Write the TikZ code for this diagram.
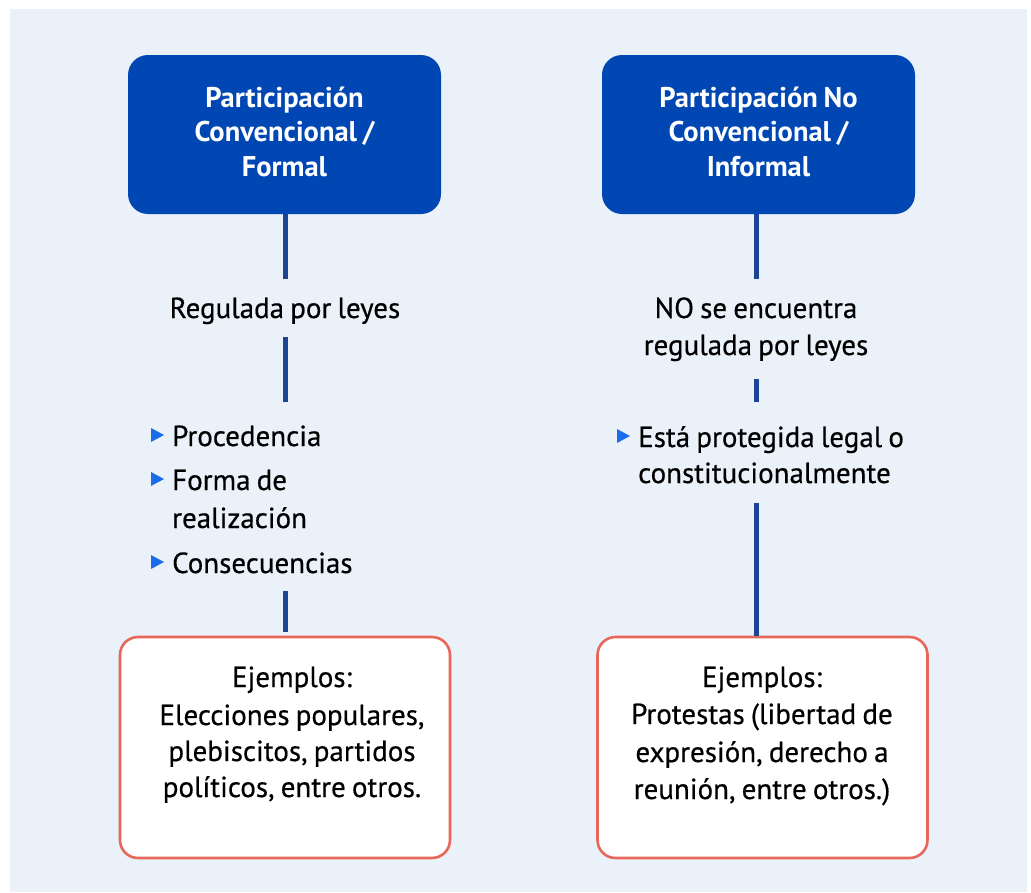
\documentclass[tikz,border=0pt]{standalone}
\usepackage{fontspec}
\setmainfont[WordSpace=0.8, FakeBold=0.5, BoldFeatures={FakeBold=0}]{PT Sans}
\definecolor{bgblue}{HTML}{EAF1F8}
\definecolor{headblue}{HTML}{0047B3}
\definecolor{lineblue}{HTML}{1C4596}
\definecolor{bulblue}{HTML}{1B6CE8}
\definecolor{exred}{HTML}{E8675B}
\tikzset{
  headbox/.style={draw=none, fill=headblue, rounded corners=20pt, minimum width=313pt, minimum height=159pt, inner sep=0pt, text=white, align=center, font=\fontsize{28.5}{34.5}\bfseries\selectfont},
  exbox/.style={draw=exred, line width=2.6pt, fill=white, rounded corners=18pt, minimum width=330pt, minimum height=221pt, inner sep=0pt},
  bodytxt/.style={inner sep=0pt, align=center, font=\fontsize{29}{37}\selectfont, text=black},
  bultxt/.style={inner sep=0pt, anchor=base west, font=\fontsize{29}{37}\selectfont, text=black},
  conn/.style={draw=lineblue, line width=5pt},
}
\newcommand\bultri[1]{\fill[bulblue] ([shift={(-21,-4)}]#1.base west) -- ++(0,-14) -- ++(13,7) -- cycle;}
\begin{document}
\begin{tikzpicture}[x=1pt,y=-1pt]
\useasboundingbox (0,0) rectangle (1031,892);
\fill[bgblue] (10,9) rectangle (1027,892);

% headers
\node[headbox] (h1) at (284.5,134.5) {Participación\\Convencional /\\Formal\rule[-6pt]{0pt}{6pt}};
\node[headbox] (h2) at (758.5,134.5) {Participación No\\Convencional /\\Informal\rule[-6pt]{0pt}{6pt}};

% left column
\node[bodytxt, anchor=base] (reg1) at (285,318) {Regulada por leyes};
\node[bultxt] (b1) at (172,446) {Procedencia};
\node[bultxt] (b2) at (172,490) {Forma de};
\node[bultxt] (b2b) at (172,528) {realización};
\node[bultxt] (b3) at (172,573) {Consecuencias};
\bultri{b1}\bultri{b2}\bultri{b3}

% right column
\node[bodytxt, anchor=base] (reg2) at (756,318) {NO se encuentra};
\node[bodytxt, anchor=base] (reg2b) at (756,355) {regulada por leyes};
\node[bultxt] (b4) at (638,447) {Está protegida legal o};
\node[bultxt] (b4b) at (638,483) {constitucionalmente};
\bultri{b4}

% example boxes
\node[exbox] (e1) at (285,747.5) {};
\node[exbox] (e2) at (762.5,747.5) {};
\node[bodytxt, anchor=base] (e1t) at (292,687) {Ejemplos:};
\node[bodytxt, anchor=base] (e1a) at (292,725) {Elecciones populares,};
\node[bodytxt, anchor=base] (e1b) at (292,761) {plebiscitos, partidos};
\node[bodytxt, anchor=base] (e1c) at (292,797) {políticos, entre otros.};
\node[bodytxt, anchor=base] (e2t) at (762,687) {Ejemplos:};
\node[bodytxt, anchor=base] (e2a) at (762,724) {Protestas (libertad de};
\node[bodytxt, anchor=base] (e2b) at (762,762) {expresión, derecho a};
\node[bodytxt, anchor=base] (e2c) at (762,799) {reunión, entre otros.)};

% connector end points
\coordinate (l1a) at (285,279);
\coordinate (l2a) at (285,337);
\coordinate (l2b) at (285,402);
\coordinate (l3a) at (285,591);
\coordinate (l3b) at (285,632);
\coordinate (r1a) at (756,279);
\coordinate (r2a) at (756,379);
\coordinate (r2b) at (756,402);
\coordinate (r3a) at (756,503);

\draw[conn] (h1.south -| l1a) -- (l1a);
\draw[conn] (l2a) -- (l2b);
\draw[conn] (l3a) -- (l3b);
\draw[conn] (h2.south -| r1a) -- (r1a);
\draw[conn] (r2a) -- (r2b);
\draw[conn] (r3a) -- (e2.north -| r3a);
\end{tikzpicture}
\end{document}
